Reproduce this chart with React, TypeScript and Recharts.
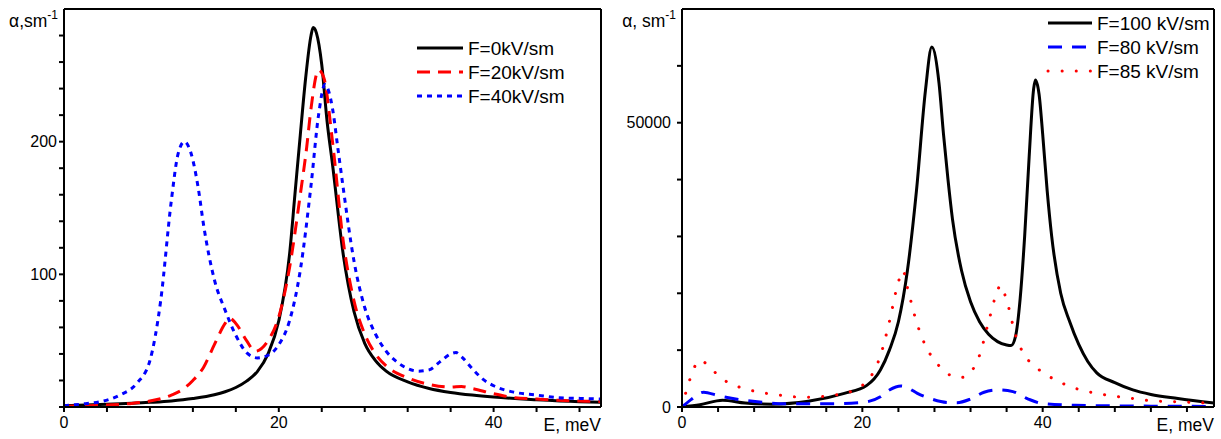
import React from "react";
import { LineChart, Line, XAxis, YAxis, Legend } from "recharts";

const FONT = '"Liberation Sans", Arial, sans-serif';

// left panel: F = 0 / 20 / 40 kV/sm
const leftE0 = [0, 4, 8, 10, 12, 14, 15, 16, 17, 18, 19, 20, 21, 21.5, 22, 22.5, 23, 23.2, 23.5, 24, 24.5, 25, 26, 27, 28, 29, 30, 32, 34, 36, 38, 40, 44, 48, 50];
const leftA0 = [1, 2, 3.5, 4.6, 6.4, 9.2, 11.5, 14.7, 19.5, 26.7, 40, 65, 115, 160, 205, 248, 280, 286, 282, 258, 215, 183, 115, 72, 48, 35, 27, 19, 14, 11, 9, 7.5, 5.5, 4, 3.5];

const leftE20 = [0, 3, 6, 8, 10, 11, 12, 13, 14, 15, 15.4, 16, 17, 17.8, 19, 20, 21, 22, 22.6, 23, 23.7, 24.2, 25, 26, 27, 28, 29, 30, 32, 34, 36, 37, 38, 40, 42, 44, 46, 48, 50];
const leftA20 = [0.5, 1.2, 2.5, 4.5, 9, 13, 20, 30, 47, 63, 67, 63, 50, 42, 50, 68, 105, 160, 196, 225, 254, 248, 200, 125, 80, 55, 40, 31, 22, 17, 15, 15.5, 14, 10, 7, 6, 5, 4.5, 4];

const leftE40 = [0, 2, 3.4, 5.2, 6.8, 8, 9, 10, 10.6, 11.2, 11.8, 12.5, 13, 14, 15, 16, 17, 18, 19, 20, 21, 22, 23, 23.7, 24.3, 25, 25.5, 26, 27, 28, 29, 30, 31, 32, 33, 34, 35, 36, 36.5, 37, 38, 39, 40, 42, 44, 46, 48, 50];
const leftA40 = [1, 2.5, 4, 9, 18, 35, 80, 156, 190, 200, 192, 165, 137, 96, 73, 54, 41, 37, 39, 47, 65, 103, 167, 220, 243, 225, 195, 165, 110, 75, 55, 42, 34, 29, 27, 28, 34, 40, 41, 38, 29, 21, 16, 11, 9, 7, 6.5, 6];

const leftTicksX = [0, 4, 8, 12, 16, 20, 24, 28, 32, 36, 40, 44, 48];
const leftLabelsX = [0, 20, 40];
const leftTicksY = [0, 20, 40, 60, 80, 100, 120, 140, 160, 180, 200, 220, 240, 260, 280];
const leftLabelsY = [100, 200];

// right panel: F = 100 / 80 / 85 kV/sm
const rightE100 = [0, 2, 4.5, 7, 10, 14, 18, 20.5, 22, 23, 24, 25, 26, 27, 27.7, 28.5, 29, 29.5, 30, 31, 32, 33, 34, 35, 36, 36.5, 37, 37.5, 38, 38.5, 39, 39.2, 39.6, 40, 40.5, 41, 42, 43, 44, 45, 46, 48, 50, 52, 55, 59];
const rightA100 = [0, 400, 1200, 700, 500, 1000, 2400, 3800, 6500, 10000, 15000, 24000, 38000, 55700, 63300, 57000, 48000, 40000, 33000, 24000, 18500, 15000, 12800, 11500, 10900, 10800, 12500, 19000, 30000, 44000, 56000, 57500, 55000, 48000, 38000, 30000, 20000, 15000, 11000, 8000, 6000, 4300, 3000, 2200, 1500, 700];

const rightE80 = [0, 1, 2.4, 4, 6.4, 9, 11.4, 16, 20, 22, 23, 24.3, 25, 26.1, 27.7, 29.4, 30.5, 32, 33.5, 35, 36.7, 38.4, 40, 43.6, 48, 52, 59];
const rightA80 = [0, 1300, 2600, 2000, 1300, 800, 550, 550, 800, 1800, 3000, 3700, 3400, 2400, 1400, 800, 750, 1400, 2600, 3000, 2700, 1400, 600, 300, 200, 150, 100];

const rightE85 = [0, 0.7, 2, 3.5, 5, 7, 8.6, 10.3, 13.6, 16.7, 19, 20, 21, 22, 23, 24, 24.5, 25, 26, 27, 28, 29, 30, 31, 32, 33, 34, 35, 35.3, 36, 37, 38, 39, 40, 42, 44, 46, 48, 50, 52, 55, 59];
const rightA85 = [0, 4000, 8200, 6300, 4400, 3200, 2600, 2200, 1700, 2050, 2900, 3800, 5500, 9000, 15000, 22000, 24000, 21000, 15000, 10800, 8200, 6500, 5400, 5200, 6100, 9100, 15000, 20500, 21400, 18800, 12600, 9100, 7300, 6100, 4300, 3100, 2400, 1900, 1500, 1100, 900, 650];

const rightTicksX = [0, 4, 8, 12, 16, 20, 24, 28, 32, 36, 40, 44, 48, 52, 56];
const rightLabelsX = [0, 20, 40];
const rightTicksY = [0, 10000, 20000, 30000, 40000, 50000, 60000];
const rightLabelsY = [0, 50000];

const zip = (es: number[], as: number[]) => es.map((e, i) => ({ e, a: as[i] }));

const leftSeries = [
  { name: "F=0kV/sm", data: zip(leftE0, leftA0), color: "#000000", dash: undefined },
  { name: "F=20kV/sm", data: zip(leftE20, leftA20), color: "#ff0000", dash: "13 8" },
  { name: "F=40kV/sm", data: zip(leftE40, leftA40), color: "#0000ff", dash: "5 5" },
];

const rightSeries = [
  { name: "F=100 kV/sm", data: zip(rightE100, rightA100), color: "#000000", dash: undefined, cap: "butt" },
  { name: "F=80 kV/sm", data: zip(rightE80, rightA80), color: "#0000ff", dash: "14 10", cap: "butt" },
  { name: "F=85 kV/sm", data: zip(rightE85, rightA85), color: "#ff0000", dash: "0.1 14", cap: "round" },
];

const tickStyle = { fill: "#000", fontSize: 16, fontFamily: FONT };
const axisLine = { stroke: "#000", strokeWidth: 2 };
const tickLine = { stroke: "#000", strokeWidth: 2 };

function LegendBox({ items, lineLen, gap, rowH }: any) {
  return (
    <svg width={200} height={rowH * 3 + 6} style={{ display: "block" }}>
      {items.map((s: any, i: number) => {
        const y = 13 + i * rowH;
        return (
          <g key={s.name}>
            <line
              x1={7}
              x2={7 + lineLen}
              y1={y}
              y2={y}
              stroke={s.color}
              strokeWidth={3}
              strokeDasharray={s.dash}
              strokeLinecap={s.cap || "butt"}
            />
            <text
              x={7 + lineLen + gap}
              y={y}
              dominantBaseline="central"
              fontSize={19}
              fontFamily={FONT}
              fill="#000"
            >
              {s.name}
            </text>
          </g>
        );
      })}
    </svg>
  );
}

function YTitle({ viewBox, text }: any) {
  const x = viewBox.x + viewBox.width - 6;
  const y = viewBox.y + 18;
  return (
    <text x={x} y={y} textAnchor="end" fontSize={17.5} fontFamily={FONT} fill="#000">
      {text}
      <tspan fontSize={12} dy={-8}>-1</tspan>
    </text>
  );
}

function XTitle({ viewBox }: any) {
  return (
    <text
      x={viewBox.x + viewBox.width}
      y={viewBox.y + 24}
      textAnchor="end"
      fontSize={17.5}
      fontFamily={FONT}
      fill="#000"
    >
      E, meV
    </text>
  );
}

function Panel({ width, margin, xMax, yMax, ticksX, labelsX, ticksY, labelsY, series, yTitle, legendPos, lineLen, yTickMargin, yAxisW }: any) {
  return (
    <LineChart width={width} height={439} margin={margin}>
      <XAxis
        dataKey="e"
        type="number"
        domain={[0, xMax]}
        allowDataOverflow
        ticks={ticksX}
        interval={0}
        tickFormatter={(v: number) => (labelsX.includes(v) ? String(v) : "")}
        tick={tickStyle}
        tickSize={5}
        tickMargin={5}
        axisLine={axisLine}
        tickLine={tickLine}
        height={32}
        label={{ content: (p: any) => <XTitle {...p} /> }}
      />
      <YAxis
        type="number"
        domain={[0, yMax]}
        allowDataOverflow
        ticks={ticksY}
        interval={0}
        tickFormatter={(v: number) => (labelsY.includes(v) ? String(v) : "")}
        tick={tickStyle}
        tickSize={5}
        tickMargin={yTickMargin}
        axisLine={axisLine}
        tickLine={tickLine}
        width={yAxisW}
        label={{ content: (p: any) => <YTitle {...p} text={yTitle} /> }}
      />
      <XAxis xAxisId="top" orientation="top" type="number" domain={[0, xMax]} tick={false} tickLine={false} axisLine={axisLine} height={1} />
      <YAxis yAxisId="right" orientation="right" type="number" domain={[0, yMax]} tick={false} tickLine={false} axisLine={axisLine} width={1} />
      <Legend
        layout="vertical"
        align="center"
        verticalAlign="middle"
        wrapperStyle={{ left: legendPos.left, top: legendPos.top, width: 200 }}
        content={() => <LegendBox items={series} lineLen={lineLen} gap={5} rowH={24} />}
      />
      {series.map((s: any) => (
        <Line
          key={s.name}
          data={s.data}
          dataKey="a"
          name={s.name}
          type="monotone"
          stroke={s.color}
          strokeWidth={3}
          strokeDasharray={s.dash}
          strokeLinecap={s.cap || "butt"}
          dot={false}
          activeDot={false}
          isAnimationActive={false}
        />
      ))}
    </LineChart>
  );
}

export default function App() {
  return (
    <div style={{ position: "absolute", left: 0, top: 0, width: 1221, height: 439, background: "#fff" }}>
      <div style={{ position: "absolute", left: 0, top: 0 }}>
        <Panel
          width={610}
          margin={{ top: 8, right: 8, bottom: 0, left: 4 }}
          yAxisW={60}
          xMax={50}
          yMax={300}
          ticksX={leftTicksX}
          labelsX={leftLabelsX}
          ticksY={leftTicksY}
          labelsY={leftLabelsY}
          series={leftSeries}
          yTitle="α,sm"
          legendPos={{ left: 410, top: 35 }}
          lineLen={46}
          yTickMargin={2}
        />
      </div>
      <div style={{ position: "absolute", left: 610, top: 0 }}>
        <Panel
          width={611}
          margin={{ top: 8, right: 6, bottom: 0, left: 12 }}
          yAxisW={60}
          xMax={59}
          yMax={70000}
          ticksX={rightTicksX}
          labelsX={rightLabelsX}
          ticksY={rightTicksY}
          labelsY={rightLabelsY}
          series={rightSeries}
          yTitle="α, sm"
          legendPos={{ left: 431, top: 10 }}
          lineLen={44}
          yTickMargin={6}
        />
      </div>
    </div>
  );
}
